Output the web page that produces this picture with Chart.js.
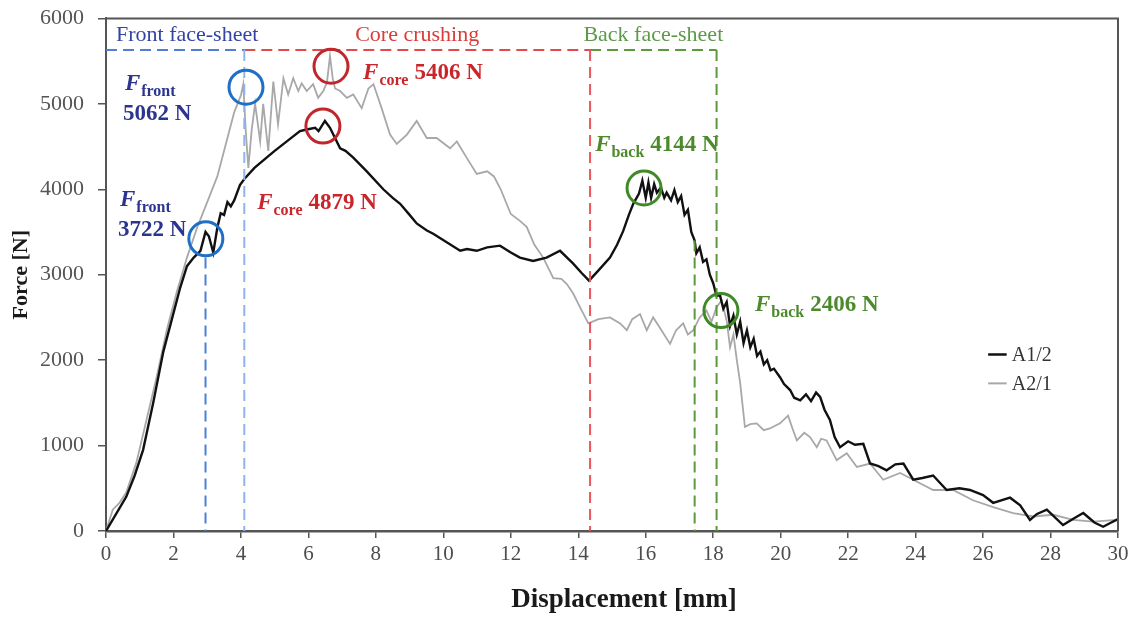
<!DOCTYPE html>
<html><head><meta charset="utf-8">
<script src="https://cdn.jsdelivr.net/npm/chart.js@4.4.1/dist/chart.umd.min.js"></script>
<style>html,body{margin:0;padding:0;background:#fff}</style>
</head><body>
<canvas id="c" width="1135" height="617"></canvas>
<script>
// ---------------- DATA ----------------
const seriesNames = ['A1/2', 'A2/1'];
const xTicks = [0,2,4,6,8,10,12,14,16,18,20,22,24,26,28,30];
const yTicks = [0,1000,2000,3000,4000,5000,6000];

// A1/2 : [displacement mm, force N]
const A1_2 = [[0,0],[0.3,200],[0.6,400],[0.85,650],[1.1,950],[1.4,1500],[1.7,2100],[2.0,2550],[2.2,2850],[2.4,3100],
[2.6,3200],[2.8,3280],[2.95,3500],[3.05,3450],[3.18,3260],[3.3,3550],[3.4,3720],[3.5,3700],[3.6,3850],[3.7,3800],
[3.8,3870],[3.97,4050],[4.1,4120],[4.4,4250],[4.76,4370],[5.0,4450],[5.36,4560],[5.75,4680],[5.95,4700],[6.2,4720],
[6.3,4680],[6.49,4800],[6.64,4720],[6.94,4480],[7.1,4450],[7.33,4370],[7.73,4210],[8.22,4000],[8.5,3900],[8.72,3830],
[9.0,3700],[9.21,3600],[9.5,3520],[9.7,3480],[10.1,3380],[10.5,3280],[10.7,3300],[10.99,3280],[11.3,3320],[11.68,3340],
[12.0,3260],[12.27,3200],[12.66,3160],[13.06,3200],[13.46,3280],[13.85,3130],[14.1,3020],[14.32,2930],[14.6,3050],[14.94,3200],
[15.15,3350],[15.33,3510],[15.5,3700],[15.63,3830],[15.8,3950],[15.9,4100],[16.0,3900],[16.08,4080],[16.16,3900],[16.25,4060],
[16.33,3960],[16.45,4020],[16.55,3900],[16.62,3960],[16.75,3870],[16.85,3990],[16.95,3850],[17.05,3920],[17.15,3700],[17.25,3760],
[17.35,3500],[17.45,3400],[17.5,3250],[17.6,3320],[17.7,3150],[17.8,3180],[17.9,3000],[18.0,2900],[18.1,2750],[18.2,2760],
[18.3,2600],[18.4,2680],[18.5,2400],[18.6,2520],[18.7,2300],[18.8,2450],[18.9,2200],[19.0,2350],[19.1,2150],[19.2,2250],
[19.3,2050],[19.4,2100],[19.5,1950],[19.6,2000],[19.7,1880],[19.8,1900],[19.98,1800],[20.1,1720],[20.28,1650],[20.4,1560],
[20.58,1530],[20.75,1600],[20.9,1520],[21.05,1620],[21.17,1570],[21.3,1420],[21.46,1300],[21.6,1100],[21.76,980],[22.0,1050],
[22.2,1010],[22.45,1020],[22.65,790],[22.9,760],[23.14,710],[23.4,780],[23.64,790],[23.93,600],[24.2,620],[24.52,650],
[24.92,480],[25.3,500],[25.61,480],[26.0,420],[26.3,330],[26.8,390],[27.1,300],[27.39,130],[27.6,200],[27.89,250],
[28.37,70],[28.7,150],[28.97,210],[29.3,100],[29.56,50],[29.8,100],[30,140]];

// A2/1 : [displacement mm, force N]
const A2_1 = [[0,0],[0.2,250],[0.4,330],[0.6,450],[0.9,800],[1.2,1300],[1.5,1800],[1.8,2350],[2.1,2800],[2.4,3200],
[2.7,3550],[3.0,3850],[3.3,4150],[3.6,4600],[3.8,4900],[4.0,5100],[4.07,5230],[4.14,4700],[4.22,4250],[4.32,4700],
[4.42,5000],[4.57,4560],[4.66,5000],[4.81,4450],[4.96,5260],[5.1,4760],[5.26,5300],[5.4,5110],[5.55,5300],[5.7,5150],
[5.8,5240],[5.95,5150],[6.14,5230],[6.29,5070],[6.44,5150],[6.55,5250],[6.64,5560],[6.72,5300],[6.79,5180],[6.94,5150],
[7.14,5070],[7.33,5110],[7.58,4950],[7.78,5180],[7.93,5230],[8.17,4950],[8.42,4640],[8.62,4530],[8.92,4640],[9.21,4800],
[9.51,4600],[9.8,4600],[10.2,4480],[10.4,4560],[10.69,4370],[10.99,4180],[11.3,4210],[11.5,4150],[11.7,4000],[12.0,3710],
[12.27,3630],[12.47,3560],[12.7,3350],[12.96,3200],[13.26,2960],[13.5,2950],[13.66,2890],[13.85,2780],[14.05,2620],[14.3,2430],
[14.6,2480],[14.94,2500],[15.24,2430],[15.44,2350],[15.6,2480],[15.83,2540],[16.03,2350],[16.22,2500],[16.42,2380],[16.72,2190],
[16.9,2350],[17.11,2430],[17.25,2300],[17.41,2350],[17.6,2500],[17.8,2580],[17.95,2450],[18.1,2620],[18.25,2700],[18.4,2460],
[18.5,2150],[18.6,2300],[18.7,2000],[18.8,1730],[18.94,1220],[19.1,1250],[19.29,1260],[19.5,1180],[19.68,1200],[19.98,1260],
[20.22,1350],[20.35,1200],[20.48,1060],[20.7,1150],[20.87,1100],[21.07,980],[21.2,1080],[21.36,1060],[21.66,830],[21.96,910],
[22.26,750],[22.65,790],[23.04,600],[23.54,680],[23.93,600],[24.52,480],[25.11,480],[25.7,360],[26.3,280],[26.89,210],
[27.49,170],[28.08,190],[28.67,130],[29.26,110],[29.96,130],[30,140]];

// stage boundaries (mm) and marked peaks (mm, N)
const stageNames = ['Front face-sheet', 'Core crushing', 'Back face-sheet'];
const stageBounds = [0, 4.1, 14.35, 18.1];
const stageLevel = 5630;
const extraBounds = [[2.95, 3200], [17.45, 3400]];
const peakMarks = [[2.96,3420],[4.15,5195],[6.67,5440],[6.43,4740],[15.95,4015],[18.23,2580]];
const peakLabels = ['front','front','core','core','back','back'];
const peakValues = ['3722 N','5062 N','5406 N','4879 N','4144 N','2406 N'];

// ---------------- STYLE ----------------
const SERIF = "'Liberation Serif','DejaVu Serif',serif";
const BLUE_T = '#2b3590', RED_T = '#c9252b', GREEN_T = '#4d8a2e';
const stageColors = ['#4d7fd6', '#e24b4b', '#5b9a3c'];
const stageTextColors = ['#3444a4', '#d93c3a', '#5c9a48'];
const circleColors = ['#1f6fc6','#1f6fc6','#c0262c','#c0262c','#3f8a26','#3f8a26'];
const textColors = [BLUE_T, BLUE_T, RED_T, RED_T, GREEN_T, GREEN_T];
// label anchors (data units: mm, N) and mode
const labelAnchors = [[0.415,3805,true],[0.56,5160,true],[7.62,5288,false],[4.48,3770,false],[14.5,4447,false],[19.24,2580,false]];

const annot = {
  id: 'annot',
  afterDatasetsDraw(chart) {
    const ctx = chart.ctx, xs = chart.scales.x, ys = chart.scales.y;
    const X = v => xs.getPixelForValue(v), Y = v => ys.getPixelForValue(v);
    const a = chart.chartArea;
    ctx.save();
    ctx.lineWidth = 2;
    ctx.setLineDash([11, 6]);
    for (let i = 0; i < 3; i++) {
      ctx.strokeStyle = stageColors[i];
      ctx.beginPath();
      ctx.moveTo(X(stageBounds[i]), Y(stageLevel));
      ctx.lineTo(X(stageBounds[i+1]), Y(stageLevel));
      ctx.stroke();
    }
    const vCols = ['#8fb3ea', '#e8585a', '#5b9a3c'];
    for (let i = 1; i < 4; i++) {
      ctx.strokeStyle = vCols[i-1];
      ctx.beginPath();
      ctx.moveTo(X(stageBounds[i]), Y(stageLevel));
      ctx.lineTo(X(stageBounds[i]), Y(0));
      ctx.stroke();
    }
    const eCols = ['#4a80d6', '#5b9a3c'];
    extraBounds.forEach((b, i) => {
      ctx.strokeStyle = eCols[i];
      ctx.beginPath();
      ctx.moveTo(X(b[0]), Y(b[1]));
      ctx.lineTo(X(b[0]), Y(0));
      ctx.stroke();
    });
    ctx.setLineDash([]);
    ctx.font = '22px ' + SERIF;
    ctx.textBaseline = 'alphabetic';
    ctx.textAlign = 'center';
    for (let i = 0; i < 3; i++) {
      ctx.fillStyle = stageTextColors[i];
      const cx = i === 0 ? (X(stageBounds[0]) + X(stageBounds[1])) / 2 + 12 : (X(stageBounds[i]) + X(stageBounds[i+1])) / 2;
      ctx.fillText(stageNames[i], cx, Y(5731));
    }
    ctx.lineWidth = 3;
    peakMarks.forEach((p, i) => {
      ctx.strokeStyle = circleColors[i];
      ctx.beginPath();
      ctx.arc(X(p[0]), Y(p[1]), 17, 0, Math.PI * 2);
      ctx.stroke();
    });
    ctx.textAlign = 'left';
    labelAnchors.forEach((l, i) => {
      const x = X(l[0]), y = Y(l[1]);
      ctx.fillStyle = textColors[i];
      ctx.font = 'italic bold 23px ' + SERIF;
      ctx.fillText('F', x, y);
      let w = ctx.measureText('F').width;
      ctx.font = 'bold 16px ' + SERIF;
      ctx.fillText(peakLabels[i], x + w + 1, y + 6);
      const ws = ctx.measureText(peakLabels[i]).width;
      ctx.font = 'bold 23px ' + SERIF;
      if (l[2]) {
        ctx.fillText(peakValues[i], x - 2, y + 30);
      } else {
        ctx.fillText(peakValues[i], x + w + 1 + ws + 6, y);
      }
    });
    const legCols = ['#111111', '#a8a8a8'];
    const legY = [2066, 1728];
    ctx.font = '20px ' + SERIF;
    ctx.textBaseline = 'middle';
    seriesNames.forEach((n, i) => {
      const y = Y(legY[i]);
      ctx.strokeStyle = legCols[i];
      ctx.lineWidth = i === 0 ? 2.5 : 2;
      ctx.beginPath();
      ctx.moveTo(X(26.15), y); ctx.lineTo(X(26.7), y); ctx.stroke();
      ctx.fillStyle = '#333';
      ctx.fillText(n, X(26.85), y + 1);
    });
    ctx.strokeStyle = '#555';
    ctx.lineWidth = 2;
    ctx.beginPath();
    ctx.moveTo(a.left, a.top); ctx.lineTo(a.right, a.top); ctx.lineTo(a.right, a.bottom);
    ctx.stroke();
    ctx.restore();
  }
};

const titles = {
  id: 'titles',
  afterDraw(chart) {
    const ctx = chart.ctx, a = chart.chartArea;
    ctx.save();
    ctx.fillStyle = '#1a1a1a';
    ctx.textAlign = 'center';
    ctx.textBaseline = 'middle';
    ctx.font = 'bold 27px ' + SERIF;
    ctx.fillText('Displacement [mm]', 624, 600);
    ctx.translate(21, (a.top + a.bottom) / 2);
    ctx.rotate(-Math.PI / 2);
    ctx.font = 'bold 22px ' + SERIF;
    ctx.fillText('Force [N]', 0, 0);
    ctx.restore();
  }
};

const toPts = arr => arr.map(p => ({x: p[0], y: p[1]}));

new Chart(document.getElementById('c'), {
  type: 'scatter',
  data: {
    datasets: [
      { label: seriesNames[0], data: toPts(A1_2), showLine: true, borderColor: '#111', borderWidth: 2.4, pointRadius: 0, tension: 0 },
      { label: seriesNames[1], data: toPts(A2_1), showLine: true, borderColor: '#a8a8a8', borderWidth: 1.8, pointRadius: 0, tension: 0 }
    ]
  },
  options: {
    responsive: false, animation: false, devicePixelRatio: 1,
    layout: { padding: { top: 17, right: 17, left: 0, bottom: 0 } },
    plugins: { legend: { display: false }, tooltip: { enabled: false } },
    scales: {
      x: {
        type: 'linear', min: 0, max: 30,
        afterBuildTicks: s => { s.ticks = xTicks.map(v => ({value: v})); },
        afterFit: s => { s.height = 86; },
        ticks: { font: { family: SERIF, size: 21 }, color: '#4d4d4d', padding: 4, maxRotation: 0, autoSkip: false, callback: v => String(v) },
        grid: { drawOnChartArea: false, drawTicks: true, tickLength: 7, tickColor: '#555', lineWidth: 1.5 },
        border: { display: true, color: '#555', width: 2.5 }
      },
      y: {
        type: 'linear', min: 0, max: 6000,
        afterBuildTicks: s => { s.ticks = yTicks.map(v => ({value: v})); },
        afterFit: s => { s.width = 106; },
        ticks: { font: { family: SERIF, size: 22, lineHeight: 0.4 }, color: '#555', padding: 14, autoSkip: false, callback: v => String(v) },
        grid: { drawOnChartArea: false, drawTicks: true, tickLength: 8, tickColor: '#555', lineWidth: 1.5 },
        border: { display: true, color: '#555', width: 2 }
      }
    }
  },
  plugins: [annot, titles]
});
</script>
</body></html>
